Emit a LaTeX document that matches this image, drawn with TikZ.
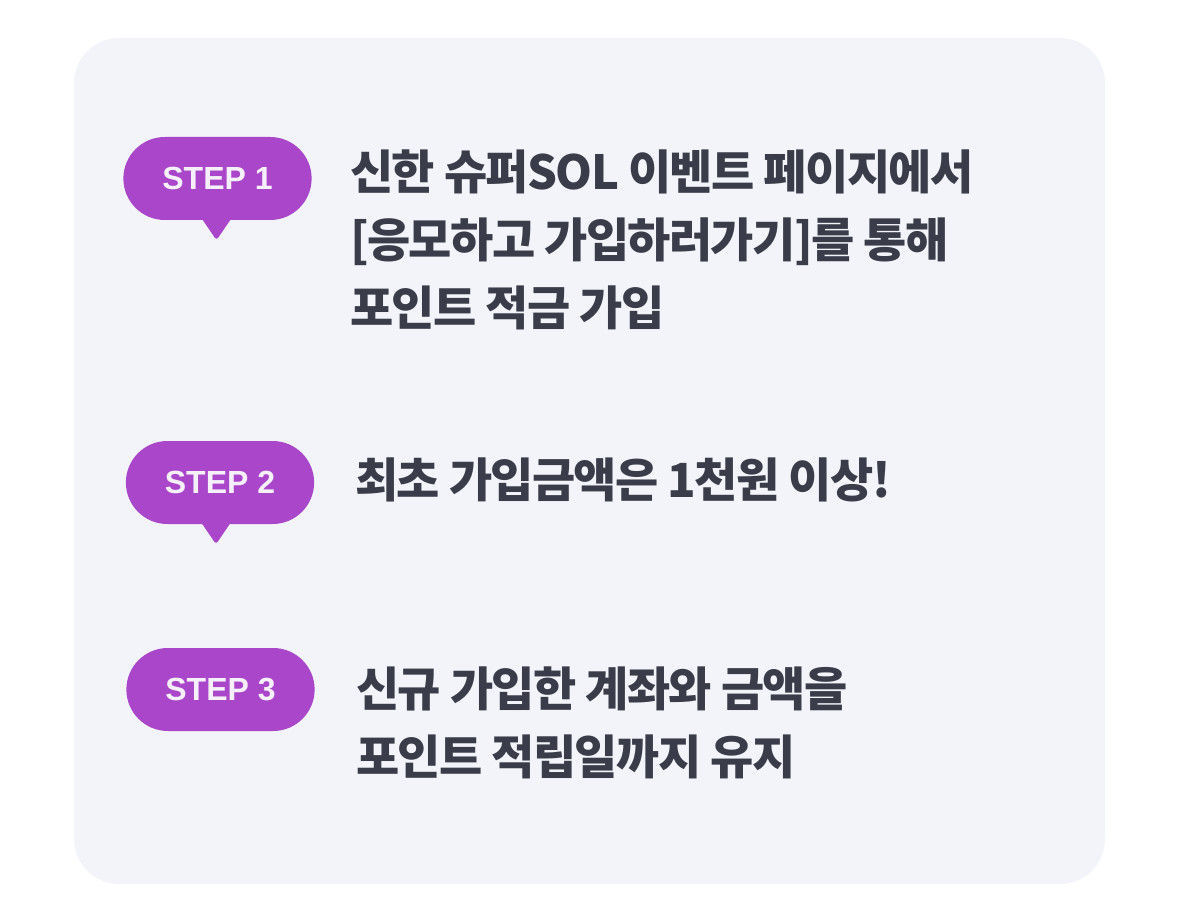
\documentclass[tikz,border=0pt]{standalone}
\usepackage{fontspec}
\setmainfont{Noto Sans CJK KR}
\newfontfamily\krfont{Noto Sans CJK KR}[LetterSpace=-3.5]
\newfontfamily\badgefamily{Liberation Sans}
\definecolor{panelbg}{HTML}{F2F4F9}
\definecolor{stepviolet}{HTML}{A946C9}
\definecolor{badgetext}{HTML}{F5F0FA}
\definecolor{bodygray}{HTML}{3A3D49}
\tikzset{%
  % Specifications for style of nodes:
   stepbadge/.style = {rectangle, rounded corners=41.5pt, fill=stepviolet,
                       text=badgetext, minimum height=83pt, inner xsep=39pt,
                       inner ysep=0pt, font=\badgefamily\bfseries\fontsize{32}{38}\selectfont},
    steptext/.style = {anchor=north west, align=left, inner sep=0pt, text=bodygray,
                       font=\krfont\bfseries\fontsize{47}{68}\selectfont},
   badgetail/.style = {fill=stepviolet, rounded corners=3pt},
}
\begin{document}
\begin{tikzpicture}[x=1pt, y=-1pt]
\useasboundingbox (0,0) rectangle (1179,923);

\fill[panelbg, rounded corners=45pt] (74,38) rectangle (1105,884);

\node (StepOne)   [stepbadge] at (217.5,178.5) {STEP 1};
\node (StepTwo)   [stepbadge] at (220,482.5)   {STEP 2};
\node (StepThree) [stepbadge] at (220.5,689.5) {STEP 3};

\fill[badgetail] ([xshift=-16pt,yshift=2pt]StepOne.south) -- ([xshift=-1pt,yshift=-20pt]StepOne.south)
  -- ([xshift=14pt,yshift=2pt]StepOne.south) [sharp corners] -- cycle;
\fill[badgetail] ([xshift=-19pt,yshift=2pt]StepTwo.south) -- ([xshift=-4pt,yshift=-20pt]StepTwo.south)
  -- ([xshift=11pt,yshift=2pt]StepTwo.south) [sharp corners] -- cycle;

\node (TextOne)   [steptext] at (350,150) {신한 슈퍼SOL 이벤트 페이지에서\\{}[응모하고 가입하러가기]를 통해\\포인트 적금 가입};
\node (TextTwo)   [steptext] at (355,458) {최초 가입금액은 1천원 이상!};
\node (TextThree) [steptext] at (356,667) {신규 가입한 계좌와 금액을\\포인트 적립일까지 유지};
\end{tikzpicture}
\end{document}
